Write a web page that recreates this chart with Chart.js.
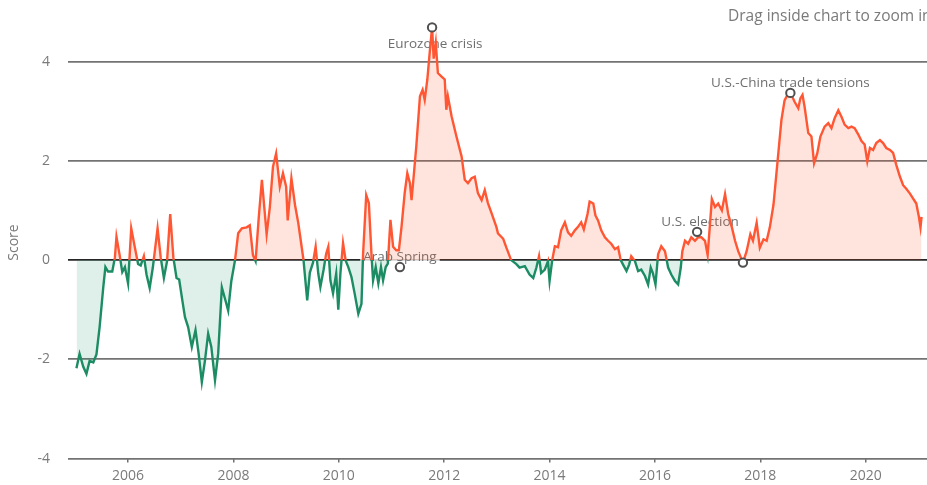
<!DOCTYPE html>
<html>
<head>
<meta charset="utf-8">
<script src="https://cdn.jsdelivr.net/npm/chart.js@4.4.1/dist/chart.umd.min.js"></script>
<style>
  html, body { margin: 0; padding: 0; background: #fff; overflow: hidden; }
  #wrap { width: 936px; height: 485px; }
</style>
</head>
<body>
<div id="wrap"><canvas id="risk" width="936" height="485"></canvas></div>
<script>
// Observation dates (decimal years) and risk scores
const dates = [
  2005.02, 2005.08, 2005.15, 2005.21, 2005.27, 2005.34, 2005.40, 2005.46, 2005.53, 2005.57, 2005.62, 2005.70, 2005.75, 2005.78, 2005.84, 2005.89, 2005.94,
  2006.00, 2006.06, 2006.13, 2006.19, 2006.24, 2006.30, 2006.35, 2006.41, 2006.47, 2006.56, 2006.62, 2006.68, 2006.74, 2006.80, 2006.86, 2006.92, 2006.97,
  2007.03, 2007.08, 2007.14, 2007.21, 2007.28, 2007.34, 2007.40, 2007.46, 2007.52, 2007.58, 2007.65, 2007.71, 2007.78, 2007.85, 2007.90, 2007.96,
  2008.03, 2008.09, 2008.16, 2008.25, 2008.31, 2008.37, 2008.42, 2008.48, 2008.54, 2008.63, 2008.69, 2008.75, 2008.81, 2008.88, 2008.94,
  2009.00, 2009.03, 2009.10, 2009.17, 2009.23, 2009.27, 2009.33, 2009.40, 2009.45, 2009.51, 2009.56, 2009.61, 2009.65, 2009.71, 2009.76, 2009.80, 2009.84, 2009.89, 2009.95, 2009.99,
  2010.03, 2010.08, 2010.13, 2010.18, 2010.24, 2010.30, 2010.37, 2010.43, 2010.46, 2010.52, 2010.57, 2010.62, 2010.65, 2010.70, 2010.75, 2010.80, 2010.84, 2010.89, 2010.93, 2010.98,
  2011.03, 2011.09, 2011.14, 2011.19, 2011.25, 2011.30, 2011.35, 2011.38, 2011.42, 2011.47, 2011.54, 2011.59, 2011.63, 2011.68, 2011.73, 2011.77, 2011.80, 2011.84, 2011.88, 2011.95,
  2012.01, 2012.04, 2012.07, 2012.14, 2012.23, 2012.33, 2012.39, 2012.45, 2012.52, 2012.58, 2012.64, 2012.71, 2012.77, 2012.83, 2012.90, 2012.99,
  2013.02, 2013.12, 2013.18, 2013.27, 2013.37, 2013.43, 2013.53, 2013.62, 2013.69, 2013.75, 2013.80, 2013.84, 2013.91, 2013.97,
  2014.00, 2014.05, 2014.10, 2014.16, 2014.22, 2014.29, 2014.35, 2014.41, 2014.48, 2014.54, 2014.60, 2014.65, 2014.72, 2014.76, 2014.83, 2014.87, 2014.92, 2014.98,
  2015.05, 2015.11, 2015.17, 2015.24, 2015.30, 2015.35, 2015.41, 2015.46, 2015.51, 2015.55, 2015.62, 2015.68, 2015.74, 2015.81, 2015.87, 2015.92, 2015.96,
  2016.01, 2016.06, 2016.12, 2016.19, 2016.25, 2016.31, 2016.38, 2016.44, 2016.49, 2016.52, 2016.57, 2016.63, 2016.69, 2016.76, 2016.82, 2016.88, 2016.95,
  2017.00, 2017.08, 2017.14, 2017.20, 2017.27, 2017.33, 2017.39, 2017.46, 2017.52, 2017.58, 2017.67, 2017.74, 2017.81, 2017.86, 2017.93, 2017.99,
  2018.06, 2018.12, 2018.18, 2018.25, 2018.31, 2018.40, 2018.46, 2018.53, 2018.59, 2018.65, 2018.72, 2018.76, 2018.80, 2018.84, 2018.91, 2018.97,
  2019.02, 2019.08, 2019.14, 2019.22, 2019.29, 2019.35, 2019.41, 2019.48, 2019.54, 2019.60, 2019.67, 2019.73, 2019.79, 2019.86, 2019.92, 2019.98,
  2020.03, 2020.08, 2020.14, 2020.20, 2020.27, 2020.33, 2020.39, 2020.46, 2020.52, 2020.58, 2020.65, 2020.71, 2020.77, 2020.84, 2020.90, 2020.96,
  2021.01, 2021.04, 2021.06
];
const scores = [
  -2.18, -1.89, -2.15, -2.29, -2.03, -2.06, -1.90, -1.35, -0.54, -0.14, -0.23, -0.23, 0.05, 0.47, 0.10, -0.24, -0.14,
  -0.47, 0.64, 0.25, -0.08, -0.11, 0.08, -0.29, -0.56, -0.15, 0.64, 0.05, -0.36, -0.02, 0.93, 0.05, -0.36, -0.39,
  -0.81, -1.15, -1.35, -1.75, -1.41, -1.89, -2.46, -2.02, -1.48, -1.75, -2.42, -1.89, -0.55, -0.82, -1.02, -0.42,
  0.00, 0.54, 0.64, 0.66, 0.70, 0.10, -0.02, 0.85, 1.62, 0.52, 1.06, 1.88, 2.15, 1.48, 1.75,
  1.48, 0.80, 1.65, 1.10, 0.75, 0.45, 0.00, -0.81, -0.25, -0.05, 0.27, -0.27, -0.54, -0.20, 0.13, 0.27, -0.41, -0.67, -0.27, -1.00,
  -0.27, 0.34, -0.01, -0.14, -0.34, -0.67, -1.08, -0.88, 0.11, 1.31, 1.15, 0.11, -0.41, -0.14, -0.47, -0.14, -0.41, -0.14, -0.07, 0.81,
  0.27, 0.20, 0.20, 0.67, 1.35, 1.75, 1.55, 1.21, 1.68, 2.29, 3.30, 3.43, 3.23, 3.64, 4.24, 4.69, 4.06, 4.38, 3.77, 3.70,
  3.64, 3.03, 3.30, 2.90, 2.50, 2.09, 1.62, 1.55, 1.65, 1.68, 1.35, 1.21, 1.41, 1.15, 0.94, 0.67,
  0.54, 0.43, 0.25, 0.00, -0.08, -0.15, -0.12, -0.29, -0.36, -0.15, 0.08, -0.26, -0.19, -0.02,
  -0.42, 0.00, 0.28, 0.26, 0.60, 0.76, 0.56, 0.49, 0.60, 0.67, 0.76, 0.62, 0.93, 1.18, 1.14, 0.90, 0.80, 0.60,
  0.46, 0.39, 0.33, 0.22, 0.26, 0.00, -0.12, -0.22, -0.09, 0.08, -0.02, -0.22, -0.19, -0.32, -0.49, -0.15, -0.26,
  -0.49, 0.12, 0.28, 0.18, -0.15, -0.29, -0.42, -0.49, -0.15, 0.18, 0.39, 0.33, 0.46, 0.39, 0.46, 0.46, 0.39,
  0.10, 1.23, 1.07, 1.14, 1.00, 1.33, 0.93, 0.66, 0.39, 0.18, -0.05, 0.18, 0.52, 0.39, 0.75, 0.25,
  0.42, 0.39, 0.66, 1.12, 1.80, 2.82, 3.22, 3.36, 3.33, 3.19, 3.06, 3.26, 3.33, 3.09, 2.56, 2.49,
  1.95, 2.15, 2.49, 2.69, 2.76, 2.66, 2.86, 3.02, 2.89, 2.73, 2.66, 2.69, 2.66, 2.53, 2.40, 2.33,
  1.99, 2.26, 2.22, 2.36, 2.42, 2.36, 2.26, 2.22, 2.16, 1.92, 1.68, 1.51, 1.44, 1.34, 1.24, 1.14,
  0.87, 0.66, 0.87
];

// Annotated events
const eventLabels = ['Arab Spring', 'Eurozone crisis', 'U.S. election', '', 'U.S.-China trade tensions'];
const eventDates  = [2011.16, 2011.77, 2016.80, 2017.67, 2018.57];
const eventScores = [-0.14, 4.69, 0.57, -0.05, 3.37];

// Axis ticks
const yearTicks  = [2006, 2008, 2010, 2012, 2014, 2016, 2018, 2020];
const scoreTicks = [-4, -2, 0, 2, 4];

const ORANGE = '#ff5633';
const GREEN = '#1c8c64';
const FONT = "'Open Sans', 'Liberation Sans', sans-serif";

// Line colour switches at the zero level
function signGradient(ctx) {
  const chart = ctx.chart;
  const area = chart.chartArea;
  if (!area) return ORANGE;
  const y0 = chart.scales.y.getPixelForValue(0);
  const t = Math.min(1, Math.max(0, (y0 - area.top) / (area.bottom - area.top)));
  const g = chart.ctx.createLinearGradient(0, area.top, 0, area.bottom);
  g.addColorStop(0, ORANGE);
  g.addColorStop(t, ORANGE);
  g.addColorStop(t, GREEN);
  g.addColorStop(1, GREEN);
  return g;
}

const eventStyle = {
  'Arab Spring': { dx: 0, dy: -10 },
  'Eurozone crisis': { dx: 3, dy: 17 },
  'U.S. election': { dx: 3, dy: -10 },
  'U.S.-China trade tensions': { dx: 0, dy: -10 }
};

const eventsPlugin = {
  id: 'events',
  beforeDatasetsDraw(chart) {
    const { ctx, scales } = chart;
    ctx.save();
    ctx.font = '13.5px ' + FONT;
    ctx.textAlign = 'center';
    ctx.textBaseline = 'middle';
    eventLabels.forEach((label, i) => {
      if (!label) return;
      const st = eventStyle[label];
      const x = scales.x.getPixelForValue(eventDates[i]) + st.dx;
      const y = scales.y.getPixelForValue(eventScores[i]) + st.dy;
      const w = ctx.measureText(label).width;
      ctx.fillStyle = 'rgba(255,255,255,0.8)';
      ctx.fillRect(x - w / 2 - 3, y - 8, w + 6, 16);
      ctx.fillStyle = '#6f6f6f';
      ctx.fillText(label, x, y);
    });
    ctx.restore();
  },
  afterDatasetsDraw(chart) {
    const { ctx, scales } = chart;
    ctx.save();
    eventDates.forEach((d, i) => {
      const x = scales.x.getPixelForValue(d);
      const y = scales.y.getPixelForValue(eventScores[i]);
      ctx.beginPath();
      ctx.arc(x, y, 4.2, 0, Math.PI * 2);
      ctx.fillStyle = '#ffffff';
      ctx.fill();
      ctx.lineWidth = 2;
      ctx.strokeStyle = '#505050';
      ctx.stroke();
    });
    ctx.restore();
  },
  afterDraw(chart) {
    const ctx = chart.ctx;
    ctx.save();
    ctx.font = '15.5px ' + FONT;
    ctx.fillStyle = '#7a7a7a';
    ctx.textAlign = 'left';
    ctx.textBaseline = 'middle';
    ctx.fillText('Drag inside chart to zoom in', 728, 17);
    ctx.restore();
  }
};

new Chart(document.getElementById('risk'), {
  type: 'line',
  data: {
    datasets: [{
      data: dates.map((d, i) => ({ x: d, y: scores[i] })),
      borderColor: signGradient,
      borderWidth: 2.4,
      pointRadius: 0,
      tension: 0,
      fill: { target: { value: 0 }, above: 'rgba(255,86,51,0.16)', below: 'rgba(28,140,100,0.14)' }
    }]
  },
  options: {
    responsive: false,
    animation: false,
    layout: { padding: { top: 9, right: 0, bottom: 0, left: 0 } },
    plugins: { legend: { display: false }, tooltip: { enabled: false } },
    scales: {
      x: {
        type: 'linear',
        min: 2004.86,
        max: 2021.334,
        afterBuildTicks(axis) { axis.ticks = yearTicks.map(v => ({ value: v })); },
        afterFit(axis) { axis.height = 26; },
        border: { display: false },
        grid: { drawOnChartArea: false, drawTicks: true, tickLength: 4, color: '#707070', lineWidth: 1.5 },
        ticks: {
          padding: 5,
          color: '#7a7a7a',
          font: { family: FONT, size: 14 },
          maxRotation: 0,
          callback: v => String(v)
        }
      },
      y: {
        min: -4,
        max: 4.71,
        afterBuildTicks(axis) { axis.ticks = scoreTicks.map(v => ({ value: v })); },
        afterFit(axis) { axis.width = 68; },
        border: { display: false },
        grid: {
          drawTicks: false,
          color: ctx => ctx.tick && ctx.tick.value === 0 ? '#262626' : '#737373',
          lineWidth: 1.8
        },
        title: {
          display: true,
          text: 'Score',
          color: '#7a7a7a',
          font: { family: FONT, size: 14 },
          padding: { top: 6, bottom: 0 }
        },
        ticks: {
          padding: 18,
          color: '#7a7a7a',
          font: { family: FONT, size: 14 },
          callback: v => String(v)
        }
      }
    }
  },
  plugins: [eventsPlugin]
});
</script>
</body>
</html>
